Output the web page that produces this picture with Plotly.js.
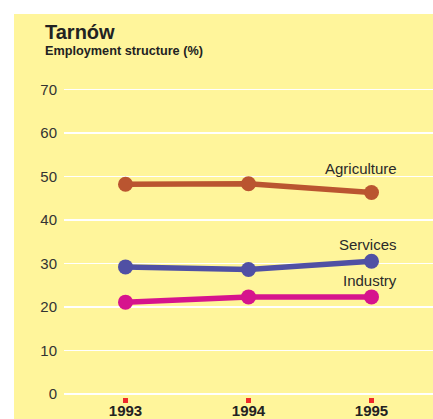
<!DOCTYPE html>
<html>
<head>
<meta charset="utf-8">
<script src="https://cdn.plot.ly/plotly-3.0.1.min.js"></script>
<style>
html,body{margin:0;padding:0;background:#ffffff;width:433px;height:419px;overflow:hidden;}
#chart{position:absolute;left:14px;top:14px;width:419px;height:405px;}
</style>
</head>
<body>
<div id="chart"></div>
<script>
const years = [1993, 1994, 1995];
const yearLabels = ['1993', '1994', '1995'];
const agriculture = [48.2, 48.3, 46.3];
const services = [29.2, 28.6, 30.5];
const industry = [21.1, 22.3, 22.3];
const yTicks = [0, 10, 20, 30, 40, 50, 60, 70];

const FONT = '"Liberation Sans", Arial, Helvetica, sans-serif';
const YELLOW = '#FFF59B';

function series(name, vals, color) {
  return {
    type: 'scatter', mode: 'lines+markers', name: name,
    x: years, y: vals,
    line: {color: color, width: 5.5},
    marker: {color: color, size: 15},
    cliponaxis: false,
    hoverinfo: 'skip'
  };
}

const data = [
  series('Agriculture', agriculture, '#BA5530'),
  series('Services', services, '#5050A4'),
  series('Industry', industry, '#D6148D')
];

const names = ['Agriculture', 'Services', 'Industry'];
const lastVals = [agriculture[2], services[2], industry[2]];
const labelShift = [13, 6, 6];

const annotations = names.map((n, i) => ({
  x: years[2], y: lastVals[i], xref: 'x', yref: 'y',
  text: n, showarrow: false, xanchor: 'right', yanchor: 'bottom',
  xshift: 27, yshift: labelShift[i],
  font: {family: FONT, size: 15, color: '#2a2a2a'}
}));

annotations.push({
  xref: 'paper', yref: 'paper', x: -0.058, y: 1.129,
  xanchor: 'left', yanchor: 'bottom', showarrow: false,
  text: '<b>Tarnów</b>', font: {family: FONT, size: 20, color: '#222222'}
});
annotations.push({
  xref: 'paper', yref: 'paper', x: -0.058, y: 1.079,
  xanchor: 'left', yanchor: 'bottom', showarrow: false,
  text: '<b>Employment structure (%)</b>', font: {family: FONT, size: 12.7, color: '#222222'}
});

const layout = {
  width: 419, height: 405,
  margin: {l: 50, r: 0, t: 71, b: 22, pad: 0},
  paper_bgcolor: YELLOW, plot_bgcolor: YELLOW,
  showlegend: false,
  font: {family: FONT, color: '#333333'},
  xaxis: {
    range: [1992.5, 1995.5], tickvals: years, ticktext: yearLabels,
    showgrid: false, zeroline: false, showline: false,
    ticks: 'outside', ticklen: 5, tickwidth: 5, tickcolor: '#EE2A2A',
    ticklabelstandoff: -5,
    tickfont: {family: FONT, size: 15, color: '#222222', weight: 'bold'},
    fixedrange: true
  },
  yaxis: {
    range: [-0.7, 71], tickvals: yTicks,
    showgrid: true, gridcolor: '#ffffff', gridwidth: 1.5,
    zeroline: false, showline: false, ticks: '',
    ticklabelstandoff: 6,
    tickfont: {family: FONT, size: 15, color: '#333333'},
    fixedrange: true
  },
  annotations: annotations
};

Plotly.newPlot('chart', data, layout, {staticPlot: true, displayModeBar: false});
</script>
</body>
</html>
